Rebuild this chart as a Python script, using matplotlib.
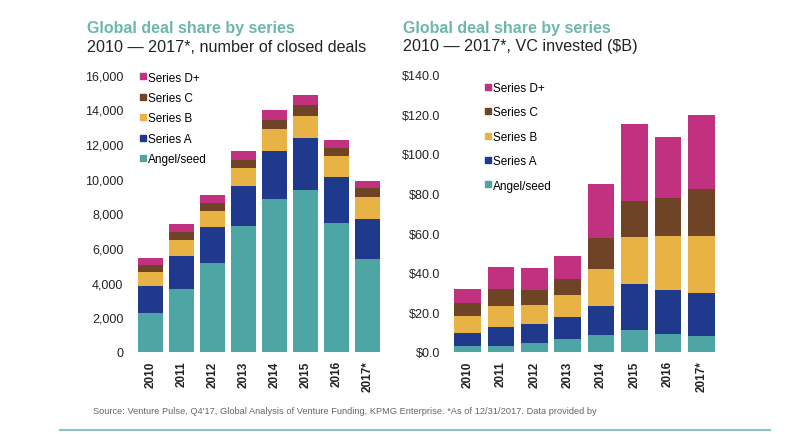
import matplotlib
matplotlib.use("Agg")
import matplotlib.pyplot as plt
from matplotlib.lines import Line2D
import numpy as np

plt.rcParams['font.family'] = ['Liberation Sans', 'DejaVu Sans']

years = ["2010", "2011", "2012", "2013", "2014", "2015", "2016", "2017*"]
series_names = ["Angel/seed", "Series A", "Series B", "Series C", "Series D+"]
colors = ["#4DA6A4", "#1F3A8C", "#E8B244", "#6E4326", "#C2317F"]

# number of closed deals (per segment)
deals_angel = [2270, 3610, 5150, 7260, 8800, 9350, 7450, 5340]
deals_a     = [1510, 1920, 2090, 2310, 2790, 2980, 2630, 2310]
deals_b     = [830, 960, 920, 1040, 1250, 1310, 1210, 1270]
deals_c     = [390, 420, 440, 480, 560, 610, 500, 540]
deals_d     = [420, 460, 460, 500, 560, 580, 460, 420]

# VC invested ($B, per segment)
vc_angel = [3.0, 3.0, 4.5, 6.4, 8.4, 10.9, 9.1, 8.1]
vc_a     = [6.7, 9.6, 9.8, 11.2, 14.8, 23.2, 22.0, 21.8]
vc_b     = [8.5, 10.6, 9.2, 11.0, 18.8, 24.1, 27.7, 28.9]
vc_c     = [6.5, 8.7, 7.9, 8.4, 15.5, 18.1, 19.2, 23.6]
vc_d     = [7.2, 11.0, 11.0, 11.7, 27.4, 38.7, 30.6, 37.4]

deals = [deals_angel, deals_a, deals_b, deals_c, deals_d]
vc = [vc_angel, vc_a, vc_b, vc_c, vc_d]

W, H = 800, 435
fig = plt.figure(figsize=(W/100, H/100), dpi=100)
fig.patch.set_facecolor("white")

def px_axes(l, r, b, t):
    return fig.add_axes([l/W, (H-b)/H, (r-l)/W, (b-t)/H])

def draw(ax, data, ylim, ticks, ticklabels, c0, step, l, r, legend_anchor, lspacing):
    x = np.arange(len(years))
    bottom = np.zeros(len(years))
    for vals, col, name in zip(data, colors, series_names):
        ax.bar(x, vals, width=0.8, bottom=bottom, color=col, label=name, linewidth=0)
        bottom += np.array(vals)
    ax.set_xlim((l - c0)/step, (r - c0)/step)
    ax.set_ylim(*ylim)
    ax.set_yticks(ticks)
    ax.set_yticklabels(ticklabels, fontsize=9, color="#222222")
    ax.set_xticks(x)
    ax.set_xticklabels(years, rotation=90, fontsize=8.5, color="#222222", fontweight="bold")
    for s in ax.spines.values():
        s.set_visible(False)
    ax.tick_params(axis="both", length=0)
    ax.tick_params(axis="y", pad=7)
    ax.tick_params(axis="x", pad=6)
    handles = [Line2D([], [], marker="s", linestyle="none", markersize=5,
                      markerfacecolor=c, markeredgecolor=c, label=n)
               for c, n in zip(colors, series_names)][::-1]
    ax.legend(handles=handles, loc="upper left", bbox_to_anchor=legend_anchor,
              bbox_transform=fig.transFigure, frameon=False, fontsize=8.5,
              handlelength=0.6, handletextpad=0.2, labelspacing=lspacing,
              borderpad=0, borderaxespad=0)

ax1 = px_axes(133, 385, 353, 75.7)
draw(ax1, deals, (0, 16000), np.arange(0, 16001, 2000),
     [f"{v:,}" for v in range(0, 16001, 2000)], 150.5, 31.0, 133, 385,
     (139/W, (H-72.5)/H), 0.72)

ax2 = px_axes(450, 718, 353, 75.7)
draw(ax2, vc, (0, 140), np.arange(0, 141, 20),
     [f"${v:.1f}" for v in range(0, 141, 20)], 467.5, 33.4, 450, 718,
     (484/W, (H-83)/H), 1.05)

title_col = "#6DB7AA"
fig.text(87/W, (H-28)/H, "Global deal share by series", fontsize=11.5, fontweight="bold",
         color=title_col, va="center", ha="left")
fig.text(87/W, (H-47)/H, "2010 \u2014 2017*, number of closed deals", fontsize=11.6,
         color="#222222", va="center", ha="left")
fig.text(403/W, (H-28)/H, "Global deal share by series", fontsize=11.5, fontweight="bold",
         color=title_col, va="center", ha="left")
fig.text(403/W, (H-47)/H, "2010 \u2014 2017*, VC invested ($B)", fontsize=11.6,
         color="#222222", va="center", ha="left")

fig.text(93/W, (H-412)/H,
         "Source: Venture Pulse, Q4'17, Global Analysis of Venture Funding, KPMG Enterprise. *As of 12/31/2017. Data provided by",
         fontsize=6.7, color="#666666", va="center", ha="left")

fig.add_artist(Line2D([60/W, 770/W], [(H-431)/H, (H-431)/H], color="#8CC4C0", linewidth=1.5))

fig.savefig("out.png", dpi=100, facecolor="white")
